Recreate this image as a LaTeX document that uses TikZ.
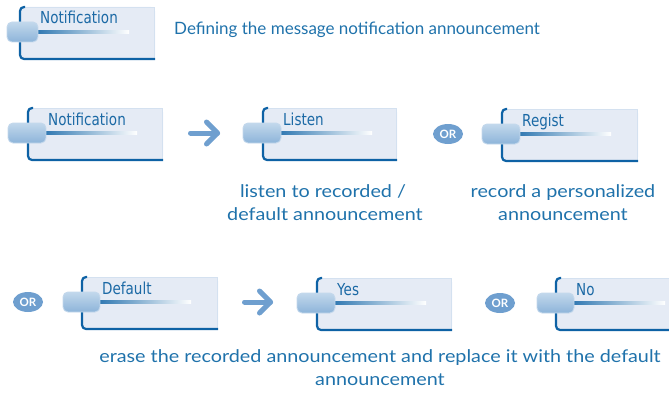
\documentclass[tikz,border=0pt]{standalone}
\usepackage{fontspec}
\setmainfont{Lato}
\newfontfamily\lcdfont[FakeStretch=0.82]{DejaVu Sans}
\newfontfamily\widefont[FakeStretch=1.13]{Lato}
\usetikzlibrary{shapes.geometric}
\definecolor{boxfill}{HTML}{E5EBF5}
\definecolor{edgeblue}{HTML}{0E62A5}
\definecolor{tabtop}{HTML}{C2D8EC}
\definecolor{tabbot}{HTML}{8DB4D9}
\definecolor{tabedge}{HTML}{C4D8EC}
\definecolor{softblue}{HTML}{6F9FCF}
\definecolor{textblue}{HTML}{1F72AB}
\definecolor{lcdblue}{HTML}{1B69A5}
\tikzset{
  keyedge/.style={draw=edgeblue, line width=2.2pt, rounded corners=4pt},
  keylabel/.style={inner sep=0pt, text=lcdblue, font=\lcdfont\fontsize{16.5}{16.5}\selectfont},
  desc/.style={inner sep=0pt, text=textblue, font=\widefont\fontsize{17.5}{20}\selectfont},
  titledesc/.style={inner sep=0pt, text=textblue, font=\fontsize{17}{20}\selectfont},
  ornode/.style={ellipse, fill=softblue, minimum width=30pt, minimum height=20pt, inner sep=0pt,
    text=white, font=\bfseries\fontsize{11.5}{11.5}\selectfont},
  bigarrow/.style={draw=softblue, line width=5pt, line cap=round, line join=round},
}
% #1 name, #2 left, #3 top, #4 right, #5 tab left, #6 label
\newcommand\keybox[6]{%
  \fill[boxfill, rounded corners=4pt] (#2,#3) rectangle (#4,#3+52);
  \draw[tabedge!50!boxfill, line width=0.8pt] (#2+4,#3+0.4) -- (#4-0.4,#3+0.4) -- (#4-0.4,#3+51);
  \draw[keyedge] (#2+5,#3) -- (#2,#3) -- (#2,#3+52) -- (#4,#3+52);
  \shade[left color=edgeblue!85, right color=white] (#2+18,#3+23.8) rectangle (#2+109,#3+26.2);
  \shade[top color=tabtop, bottom color=tabbot, draw=tabedge, line width=0.9pt, rounded corners=5pt]
    (#5,#3+15) rectangle (#2+18,#3+35);
  \node[keylabel, anchor=base west] (#1) at (#2+20,#3+17) {#6};
}
\begin{document}
\begin{tikzpicture}[x=1pt,y=-1pt]
\useasboundingbox (0,0) rectangle (669,396);
% header
\keybox{kNotifA}{20}{7}{155}{7}{Notification}
\node[titledesc, anchor=base west] (title) at (174,35) {Defining the message notification announcement};
% row 1
\keybox{kNotifB}{28}{108}{163}{8}{Notification}
\coordinate (a1s) at (190.5,133);
\coordinate (a1e) at (217.5,133);
\draw[bigarrow] (a1s) -- (a1e);
\draw[bigarrow] ([xshift=-11pt,yshift=-11pt]a1e) -- (a1e) -- ([xshift=-11pt,yshift=11pt]a1e);
\keybox{kListen}{263}{108}{397}{243}{Listen}
\node[ornode] (or1) at (448,134) {OR};
\keybox{kRegist}{502}{109}{638}{482}{Regist}
\node[desc, anchor=base] (dListenA) at (323,197) {listen to recorded /};
\node[desc, anchor=base] (dListenB) at (325,220) {default announcement};
\node[desc, anchor=base] (dRegA) at (563,197) {record a personalized};
\node[desc, anchor=base] (dRegB) at (563,220) {announcement};
% row 2
\node[ornode] (or2) at (28,302) {OR};
\keybox{kDefault}{82}{277}{218}{63}{Default}
\coordinate (a2s) at (244.5,302);
\coordinate (a2e) at (270.5,302);
\draw[bigarrow] (a2s) -- (a2e);
\draw[bigarrow] ([xshift=-11pt,yshift=-11pt]a2e) -- (a2e) -- ([xshift=-11pt,yshift=11pt]a2e);
\keybox{kYes}{317}{278}{452}{297}{Yes}
\node[ornode] (or3) at (500,303) {OR};
\keybox{kNo}{556}{278}{672}{537}{No}
\node[desc, anchor=base] (dEraseA) at (380,362) {erase the recorded announcement and replace it with the default};
\node[desc, anchor=base] (dEraseB) at (380,385) {announcement};
\end{tikzpicture}
\end{document}
